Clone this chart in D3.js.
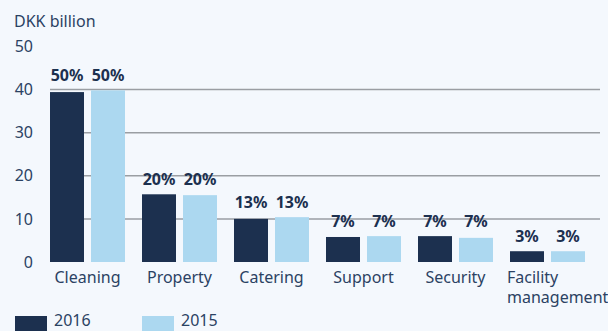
<!DOCTYPE html>
<html>
<head>
<meta charset="utf-8">
<script src="https://cdn.jsdelivr.net/npm/d3@7"></script>
<style>
  html, body { margin: 0; padding: 0; background: #f4f8fd; }
  svg { display: block; }
  text { font-family: "Noto Sans", "Open Sans", sans-serif; }
</style>
</head>
<body>
<svg id="chart" width="608" height="331"></svg>
<script>
// Market size by service segment, DKK billion
const categories = ["Cleaning", "Property", "Catering", "Support", "Security", "Facility\nmanagement"];
const series = ["2016", "2015"];
const values2016 = [39.4, 15.7, 10.0, 5.8, 6.0, 2.5];
const values2015 = [39.8, 15.5, 10.4, 6.0, 5.6, 2.5];
const shareLabels = ["50%", "20%", "13%", "7%", "7%", "3%"];
const yTicks = [0, 10, 20, 30, 40, 50];
const gridTicks = [10, 20, 30, 40];

const colors = { "2016": "#1c304f", "2015": "#acd8f0" };
const textColor = "#2b4263";
const labelColor = "#1c304f";

const svg = d3.select("#chart");

const x0 = d3.scaleBand().domain(categories).range([50, 585]).paddingInner(17 / 92).paddingOuter(0);
const x1 = d3.scaleBand().domain(series).range([0, x0.bandwidth()]).paddingInner(7 / 41).paddingOuter(0);
const y = d3.scaleLinear().domain([0, 40]).range([262, 89.5]);

// Axis title
svg.append("text")
  .attr("x", 14).attr("y", 27)
  .attr("font-size", 16).attr("fill", textColor)
  .text("DKK billion");

// Gridlines
svg.append("g").selectAll("line").data(gridTicks).join("line")
  .attr("x1", 50).attr("x2", 600)
  .attr("y1", d => y(d)).attr("y2", d => y(d))
  .attr("stroke", "#9a9ea3").attr("stroke-width", 1.5);

// Y axis labels
const yAxis = d3.axisLeft(y).tickValues(yTicks).tickSize(0).tickPadding(0);
const yg = svg.append("g").attr("transform", "translate(33,0)").call(yAxis);
yg.select(".domain").remove();
yg.selectAll("text")
  .attr("font-size", 16).attr("fill", textColor)
  .attr("font-family", "Noto Sans, Open Sans, sans-serif");

// Bars
const rows = categories.map((c, i) => ({ cat: c, vals: [
  { key: "2016", v: values2016[i] },
  { key: "2015", v: values2015[i] }
], label: shareLabels[i] }));

const groups = svg.append("g").selectAll("g").data(rows).join("g")
  .attr("transform", d => `translate(${x0(d.cat)},0)`);

groups.selectAll("rect").data(d => d.vals).join("rect")
  .attr("x", d => x1(d.key))
  .attr("width", x1.bandwidth())
  .attr("y", d => y(d.v))
  .attr("height", d => y(0) - y(d.v))
  .attr("fill", d => colors[d.key]);

// Share labels above each pair
groups.each(function (d) {
  const top = y(d3.max(d.vals, e => e.v));
  d3.select(this).selectAll("text.share").data(d.vals).join("text")
    .attr("class", "share")
    .attr("x", e => x1(e.key) + x1.bandwidth() / 2)
    .attr("y", top - 9)
    .attr("text-anchor", "middle")
    .attr("font-size", 16).attr("font-weight", 700)
    .attr("fill", labelColor)
    .text(d.label);
});

// Category labels
const catG = svg.append("g");
categories.forEach(c => {
  const lines = c.split("\n");
  const multi = lines.length > 1;
  const t = catG.append("text")
    .attr("font-size", 16).attr("fill", textColor)
    .attr("text-anchor", multi ? "start" : "middle");
  const xPos = multi ? x0(c) - 3 : x0(c) + x0.bandwidth() / 2;
  lines.forEach((ln, j) => {
    t.append("tspan").attr("x", xPos).attr("y", 283 + j * 20).text(ln);
  });
});

// Legend
const legend = svg.append("g").selectAll("g").data(series).join("g")
  .attr("transform", (d, i) => `translate(${15 + i * 127},316)`);
legend.append("rect").attr("width", 32).attr("height", 15).attr("fill", d => colors[d]);
legend.append("text").attr("x", 39).attr("y", 10)
  .attr("font-size", 16).attr("fill", textColor).text(d => d);
</script>
</body>
</html>
